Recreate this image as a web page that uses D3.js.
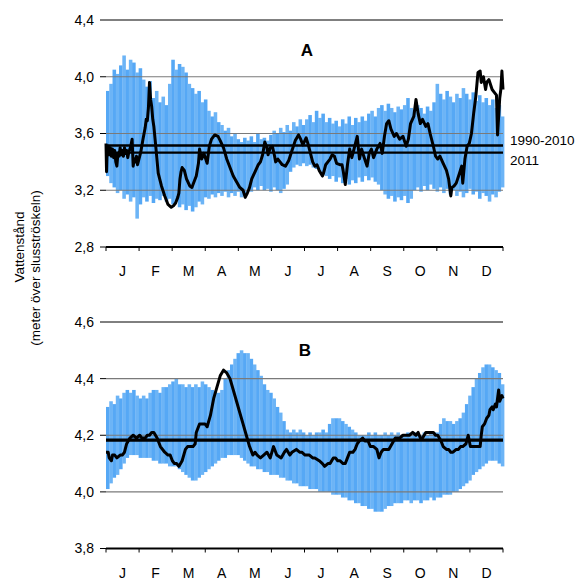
<!DOCTYPE html>
<html>
<head>
<meta charset="utf-8">
<script src="https://cdnjs.cloudflare.com/ajax/libs/d3/7.8.5/d3.min.js"></script>
<style>
  body { margin: 0; background: #fff; }
  text { font-family: Arial, "Liberation Sans", sans-serif; fill: #000; }
</style>
</head>
<body>
<div id="chart"></div>
<script>
'use strict';

// month labels, one per category on the x axis
const months = ["J","F","M","A","M","J","J","A","S","O","N","D"];

// envelope 1990-2010, one value every 3rd day (day 0,3,...,363)
const step = 3;

const maxA = [
  3.90,3.95,4.05,4.02,4.08,4.15,4.05,4.12,4.10,4.03,4.06,3.98,3.93,3.97,3.85,3.90,
  3.82,3.86,3.80,3.95,4.12,4.05,4.09,4.07,4.03,3.95,3.92,3.88,3.90,3.82,3.84,3.76,
  3.72,3.75,3.68,3.66,3.62,3.64,3.58,3.60,3.56,3.54,3.57,3.55,3.58,3.54,3.60,3.56,
  3.57,3.55,3.59,3.62,3.60,3.64,3.61,3.66,3.62,3.68,3.65,3.70,3.66,3.70,3.73,3.68,
  3.76,3.71,3.74,3.68,3.71,3.67,3.69,3.65,3.70,3.67,3.72,3.66,3.71,3.68,3.72,3.69,
  3.74,3.76,3.72,3.78,3.80,3.76,3.81,3.78,3.75,3.79,3.77,3.80,3.85,3.78,3.76,3.80,
  3.78,3.74,3.79,3.76,3.82,3.95,3.88,3.84,3.90,3.86,3.82,3.88,3.85,3.92,3.88,3.84,
  3.89,3.83,3.87,3.82,3.85,3.80,3.84,3.78,3.80,3.72
];

const minA = [
  3.30,3.25,3.22,3.18,3.20,3.14,3.17,3.12,3.15,3.00,3.10,3.15,3.12,3.16,3.11,3.14,
  3.13,3.16,3.12,3.14,3.10,3.13,3.08,3.10,3.06,3.09,3.05,3.08,3.12,3.10,3.15,3.14,
  3.17,3.15,3.18,3.16,3.19,3.15,3.18,3.16,3.19,3.15,3.18,3.21,3.19,3.22,3.20,3.23,
  3.20,3.21,3.19,3.22,3.20,3.18,3.21,3.24,3.33,3.36,3.38,3.37,3.39,3.37,3.38,3.36,
  3.35,3.33,3.31,3.30,3.28,3.30,3.26,3.29,3.25,3.28,3.24,3.27,3.25,3.29,3.26,3.30,
  3.27,3.29,3.26,3.24,3.20,3.17,3.14,3.16,3.12,3.15,3.13,3.16,3.11,3.14,3.20,3.22,
  3.19,3.23,3.20,3.24,3.21,3.19,3.22,3.18,3.21,3.17,3.20,3.16,3.19,3.15,3.18,3.21,
  3.17,3.19,3.14,3.18,3.16,3.12,3.17,3.15,3.19,3.22
];

const maxB = [
  4.30,4.32,4.31,4.34,4.33,4.35,4.36,4.35,4.36,4.34,4.33,4.34,4.33,4.35,4.36,4.36,
  4.35,4.37,4.37,4.38,4.39,4.40,4.38,4.38,4.37,4.38,4.37,4.38,4.37,4.39,4.38,4.37,
  4.36,4.35,4.35,4.36,4.40,4.43,4.45,4.47,4.49,4.50,4.49,4.49,4.47,4.45,4.43,4.41,
  4.38,4.36,4.35,4.33,4.30,4.28,4.25,4.22,4.21,4.22,4.21,4.22,4.21,4.20,4.21,4.20,
  4.21,4.21,4.22,4.21,4.24,4.26,4.26,4.26,4.25,4.24,4.23,4.22,4.21,4.20,4.20,4.20,
  4.21,4.20,4.21,4.20,4.20,4.21,4.20,4.21,4.20,4.21,4.20,4.20,4.21,4.20,4.21,4.20,
  4.20,4.21,4.20,4.21,4.21,4.21,4.24,4.26,4.25,4.25,4.24,4.25,4.26,4.28,4.31,4.34,
  4.37,4.40,4.42,4.44,4.45,4.45,4.44,4.43,4.42,4.38
];

const minB = [
  4.01,4.03,4.05,4.06,4.08,4.10,4.12,4.13,4.13,4.13,4.12,4.12,4.12,4.12,4.11,4.11,
  4.10,4.10,4.10,4.09,4.09,4.09,4.08,4.07,4.06,4.05,4.04,4.04,4.05,4.06,4.07,4.08,
  4.09,4.10,4.11,4.12,4.12,4.13,4.13,4.13,4.13,4.12,4.11,4.10,4.09,4.09,4.08,4.08,
  4.07,4.07,4.06,4.06,4.06,4.05,4.05,4.04,4.04,4.03,4.03,4.02,4.02,4.02,4.01,4.01,
  4.01,4.00,4.00,4.00,4.00,3.99,3.99,3.99,3.98,3.98,3.97,3.97,3.96,3.96,3.95,3.95,
  3.94,3.94,3.93,3.93,3.93,3.94,3.95,3.95,3.96,3.96,3.96,3.97,3.97,3.96,3.97,3.97,
  3.96,3.97,3.97,3.98,3.97,3.98,3.98,3.99,3.99,3.99,4.00,4.00,4.01,4.02,4.03,4.04,
  4.06,4.07,4.08,4.09,4.10,4.11,4.11,4.11,4.10,4.09
];

// 2011 daily level, [day, value]
const lineA = [
  [0,3.53],[0.5,3.33],[1,3.47],[2,3.51],[3,3.45],[4,3.50],[5,3.44],[6,3.49],[7,3.43],[8,3.48],
  [9,3.40],[10,3.37],[11,3.46],[12,3.44],[13,3.50],[14,3.45],[15,3.48],[16,3.44],[17,3.50],[18,3.46],
  [19,3.48],[20,3.43],[21,3.47],[22,3.49],[23,3.52],[24,3.56],[25,3.37],[26,3.42],[27,3.40],[28,3.44],
  [29,3.38],[30,3.41],[31,3.44],[32,3.47],[34,3.56],[36,3.64],[37,3.70],[38,3.69],[39,3.78],[40,3.96],
  [41,3.84],[42,3.79],[43,3.70],[44,3.65],[46,3.49],[48,3.32],[51,3.23],[54,3.16],[57,3.10],[60,3.08],
  [62,3.09],[64,3.11],[66,3.15],[67,3.18],[68,3.28],[69,3.33],[70,3.36],[72,3.34],[74,3.28],[77,3.23],
  [79,3.22],[80,3.24],[83,3.30],[85,3.39],[86,3.49],[87,3.45],[88,3.42],[90,3.46],[93,3.39],[95,3.51],
  [97,3.56],[100,3.59],[103,3.58],[105,3.55],[108,3.50],[111,3.42],[114,3.36],[117,3.30],[120,3.26],[123,3.22],
  [126,3.20],[128,3.15],[130,3.18],[132,3.22],[134,3.28],[137,3.33],[140,3.38],[142,3.40],[144,3.45],[146,3.54],
  [148,3.50],[149,3.45],[151,3.50],[153,3.51],[155,3.44],[156,3.40],[158,3.42],[160,3.40],[162,3.38],[165,3.37],
  [168,3.41],[171,3.48],[174,3.55],[177,3.59],[179,3.56],[181,3.52],[184,3.57],[186,3.52],[188,3.46],[190,3.40],
  [192,3.37],[194,3.38],[196,3.34],[199,3.30],[200,3.32],[202,3.38],[204,3.40],[206,3.42],[208,3.45],[210,3.44],
  [212,3.39],[215,3.38],[217,3.38],[218,3.34],[220,3.24],[222,3.38],[224,3.49],[226,3.43],[228,3.49],[231,3.58],
  [233,3.42],[235,3.49],[237,3.44],[240,3.37],[242,3.46],[244,3.49],[246,3.43],[249,3.49],[252,3.53],[254,3.46],
  [256,3.58],[258,3.67],[260,3.69],[262,3.63],[265,3.58],[267,3.60],[270,3.56],[273,3.58],[276,3.51],[278,3.56],
  [280,3.67],[283,3.72],[285,3.84],[287,3.74],[289,3.67],[291,3.70],[294,3.65],[296,3.67],[298,3.60],[301,3.51],
  [303,3.44],[305,3.42],[307,3.44],[310,3.39],[313,3.34],[315,3.28],[317,3.16],[318,3.22],[320,3.23],[322,3.25],
  [325,3.32],[327,3.37],[328,3.25],[330,3.42],[332,3.51],[334,3.53],[336,3.60],[338,3.74],[340,3.86],[342,4.03],
  [344,4.04],[345,3.96],[347,4.00],[349,3.91],[350,3.96],[352,3.98],[355,3.91],[357,3.89],[359,3.87],[360,3.59],
  [362,3.85],[363,3.91],[364,4.04],[365,3.91]
];

const lineB = [
  [0,4.14],[2,4.14],[3,4.12],[5,4.11],[6,4.13],[8,4.13],[10,4.12],[13,4.13],[15,4.13],[17,4.14],
  [19,4.17],[22,4.19],[25,4.20],[28,4.19],[31,4.20],[33,4.19],[36,4.19],[38,4.20],[40,4.20],[42,4.21],
  [44,4.21],[47,4.19],[50,4.16],[54,4.14],[57,4.13],[59,4.13],[61,4.11],[63,4.10],[65,4.10],[67,4.09],
  [70,4.11],[73,4.15],[75,4.16],[77,4.16],[80,4.16],[82,4.17],[83,4.21],[86,4.24],[89,4.24],[91,4.24],
  [93,4.23],[96,4.27],[99,4.33],[102,4.37],[105,4.41],[108,4.43],[111,4.42],[114,4.40],[117,4.36],[120,4.32],
  [123,4.28],[126,4.24],[129,4.20],[132,4.16],[135,4.13],[137,4.14],[139,4.13],[142,4.12],[145,4.13],[148,4.14],
  [151,4.12],[154,4.16],[157,4.13],[161,4.12],[164,4.14],[166,4.15],[169,4.13],[171,4.14],[175,4.15],[178,4.14],
  [180,4.14],[183,4.13],[187,4.13],[190,4.12],[192,4.12],[196,4.11],[199,4.10],[201,4.09],[204,4.10],[206,4.10],
  [209,4.12],[211,4.12],[213,4.11],[215,4.11],[218,4.10],[220,4.10],[222,4.12],[224,4.14],[227,4.14],[229,4.15],
  [231,4.17],[233,4.18],[236,4.19],[238,4.18],[241,4.18],[243,4.16],[246,4.16],[249,4.15],[251,4.12],[253,4.14],
  [255,4.15],[258,4.15],[260,4.15],[263,4.17],[266,4.19],[268,4.19],[270,4.19],[273,4.20],[276,4.20],[279,4.20],
  [282,4.21],[285,4.20],[287,4.21],[289,4.19],[291,4.19],[294,4.21],[297,4.21],[301,4.21],[303,4.20],[305,4.20],
  [308,4.18],[310,4.16],[313,4.15],[315,4.15],[317,4.14],[319,4.14],[322,4.15],[324,4.15],[326,4.16],[328,4.16],
  [331,4.17],[333,4.20],[335,4.16],[337,4.16],[339,4.16],[342,4.16],[344,4.16],[345,4.20],[346,4.23],[348,4.24],
  [350,4.26],[352,4.27],[353,4.29],[355,4.30],[356,4.29],[358,4.31],[359,4.30],[360,4.33],[361,4.36],[362,4.32],
  [363,4.33],[364,4.34],[365,4.33]
];

// mean levels: [1990-2010, 2011]
const meanA = [3.515, 3.465];
const meanB = [4.184, 4.181];

const ticksA = [2.8, 3.2, 3.6, 4.0, 4.4];
const ticksB = [3.8, 4.0, 4.2, 4.4, 4.6];

const width = 587, height = 579;
const svg = d3.select("#chart").append("svg")
    .attr("width", width)
    .attr("height", height);

const x = d3.scaleLinear().domain([0, 365]).range([106, 503]);
const xMonth = d3.scaleBand().domain(d3.range(12)).range([106, 503]);
const fmt = v => d3.format(".1f")(v).replace(".", ",");

function drawPanel(p) {
    const g = svg.append("g");
    const y = p.y;

    // min-max bars
    g.selectAll("rect.env")
        .data(p.max)
        .join("rect")
        .attr("class", "env")
        .attr("x", (d, i) => x(i * step))
        .attr("width", x(step) - x(0) + 0.3)
        .attr("y", d => y(d))
        .attr("height", (d, i) => y(p.min[i]) - y(d))
        .attr("fill", (d, i) => i % 2 ? "#6cb4f6" : "#56a8f5");

    // grid lines
    const top = y.domain()[1];
    g.selectAll("line.grid")
        .data(p.ticks.slice(1))
        .join("line")
        .attr("x1", 106).attr("x2", 503)
        .attr("y1", d => y(d)).attr("y2", d => y(d))
        .attr("stroke", d => d === top ? "#000" : "#7a7a7a")
        .attr("stroke-width", d => d === top ? 1 : 1.2);

    // x axis
    const axis = g.append("g").attr("transform", `translate(0,${y(p.ticks[0])})`);
    axis.append("line")
        .attr("x1", 106).attr("x2", 503)
        .attr("stroke", "#000").attr("stroke-width", 2);
    axis.selectAll("line.mt")
        .data(d3.range(13))
        .join("line")
        .attr("class", "mt")
        .attr("x1", i => 106 + i * xMonth.step()).attr("x2", i => 106 + i * xMonth.step())
        .attr("y1", 0).attr("y2", 4)
        .attr("stroke", "#000").attr("stroke-width", 1);
    axis.selectAll("text")
        .data(months)
        .join("text")
        .attr("x", (d, i) => xMonth(i) + xMonth.bandwidth() / 2)
        .attr("y", 29)
        .attr("text-anchor", "middle")
        .style("font-size", "14px")
        .text(d => d);

    // y ticks + labels
    g.selectAll("line.yt")
        .data(p.ticks)
        .join("line")
        .attr("class", "yt")
        .attr("x1", 100).attr("x2", 106)
        .attr("y1", d => y(d)).attr("y2", d => y(d))
        .attr("stroke", "#000");
    g.selectAll("text.yl")
        .data(p.ticks)
        .join("text")
        .attr("class", "yl")
        .attr("x", 94)
        .attr("y", d => y(d))
        .attr("dy", "0.35em")
        .attr("text-anchor", "end")
        .style("font-size", "14px")
        .text(fmt);

    // mean lines
    g.selectAll("line.mean")
        .data(p.mean)
        .join("line")
        .attr("x1", 106).attr("x2", 503)
        .attr("y1", d => y(d)).attr("y2", d => y(d))
        .attr("stroke", "#000").attr("stroke-width", 2.4);

    // 2011 line
    g.append("path")
        .datum(p.line)
        .attr("fill", "none")
        .attr("stroke", "#000")
        .attr("stroke-width", 3)
        .attr("stroke-linejoin", "round")
        .attr("d", d3.line().x(d => x(d[0])).y(d => y(d[1])));

    g.append("text")
        .attr("x", p.labelX).attr("y", p.labelY)
        .attr("text-anchor", "middle")
        .style("font-size", "17px")
        .style("font-weight", "bold")
        .text(p.name);
}

drawPanel({
    name: "A", labelX: 307, labelY: 56,
    y: d3.scaleLinear().domain([2.8, 4.4]).range([247, 20]),
    ticks: ticksA, max: maxA, min: minA, line: lineA, mean: meanA
});

drawPanel({
    name: "B", labelX: 305, labelY: 356,
    y: d3.scaleLinear().domain([3.8, 4.6]).range([548.5, 322]),
    ticks: ticksB, max: maxB, min: minB, line: lineB, mean: meanB
});

// legend labels for the mean lines
svg.append("text").attr("x", 510).attr("y", 145).style("font-size", "13.5px").text("1990-2010");
svg.append("text").attr("x", 510).attr("y", 165).style("font-size", "13.5px").text("2011");

// y title
svg.append("text")
    .attr("transform", "translate(24,247) rotate(-90)")
    .attr("text-anchor", "middle")
    .style("font-size", "13.5px")
    .text("Vattenstånd");
svg.append("text")
    .attr("transform", "translate(40,268) rotate(-90)")
    .attr("text-anchor", "middle")
    .style("font-size", "13.5px")
    .text("(meter över slusströskeln)");
</script>
</body>
</html>
